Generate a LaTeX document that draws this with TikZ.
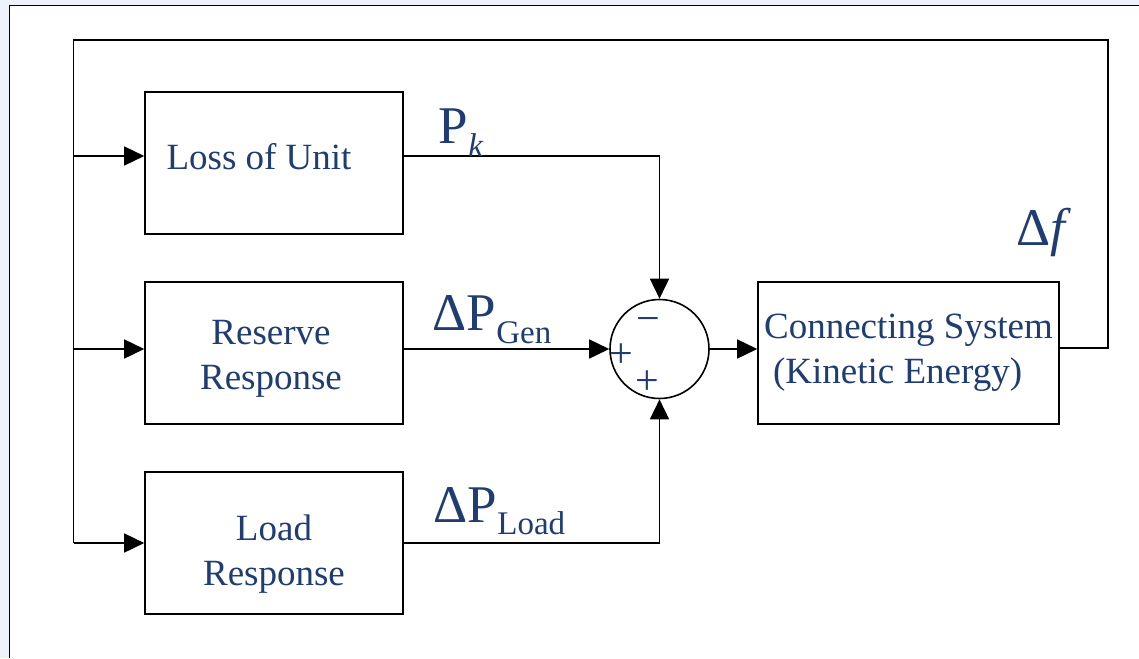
\documentclass[tikz,border=0pt]{standalone}
\usepackage{fontspec}
\setmainfont{Liberation Serif}
\usetikzlibrary{arrows.meta}
\definecolor{txtblue}{HTML}{1F3D73}
\definecolor{bgblue}{HTML}{EEF2FA}
\begin{document}
\begin{tikzpicture}[x=1pt,y=-1pt,
  line width=1.6pt,
  blk/.style={draw, line width=1.6pt, minimum width=258pt, minimum height=142pt, inner sep=0pt},
  btxt/.style={text=txtblue, font=\fontsize{37}{45}\selectfont, align=center, inner sep=0pt},
  arr/.style={-{Triangle[length=20pt,width=19pt]}},
  sig/.style={text=txtblue, font=\fontsize{42}{42}\selectfont, inner sep=0pt},
  lbl/.style={text=txtblue, inner sep=0pt, anchor=base west, font=\fontsize{53}{53}\selectfont}]
\useasboundingbox (0,0) rectangle (1139,658);
\fill[bgblue] (0,0) rectangle (1139,658);
\fill[white] (9.5,5.5) rectangle (1139,658);
\draw (1139,5.5) -- (9.5,5.5) -- (9.5,658);

% blocks
\node[blk] (loss) at (274,163) {};
\node[blk] (res) at (274,353) {};
\node[blk] (load) at (274,543) {};
\node[blk, minimum width=301pt] (cs) at (908.5,353) {};
\node[btxt] (losst) at (259,157) {Loss of Unit};
\node[btxt] (rest) at (271,358.5) {Reserve\\Response};
\node[btxt] (loadt) at (274,554.5) {Load\\Response};
\node[btxt, align=left] (cst) at (cs) {Connecting System\\\hspace*{9pt}(Kinetic Energy)};
\node[draw, circle, minimum size=99pt, inner sep=0pt] (sum) at (659.5,349) {};

% coordinates of the feedback path
\coordinate (tl) at (73.5,40);
\coordinate (tr) at (1107.7,40);
\coordinate (fr) at (1107.7,348);
\coordinate (bl) at (73.5,543);
\coordinate (a1) at (73.5,156);
\coordinate (a2) at (73.5,349);

% feedback
\draw (cs.east |- fr) -- (fr) -- (tr) -- (tl) -- (bl);
\draw[arr] (a1) -- (a1 -| loss.west);
\draw[arr] (a2) -- (a2 -| res.west);
\draw[arr] (bl) -- (load.west);

% into summing junction
\draw[arr] (a1 -| loss.east) -| (sum.north);
\draw[arr] (sum.west -| res.east) -- (sum.west);
\draw[arr] (load.east) -| (sum.south);
\draw[arr] (sum.east) -- (sum.east -| cs.west);

% signs
\node[sig] (m) at (648,325) {−};
\node[sig] (p1) at (621,356) {+};
\node[sig] (p2) at (647,383) {+};

% labels
\node[lbl] (pk) at (438,143) {P\raisebox{-13pt}{\fontsize{33}{33}\selectfont\itshape k}};
\node[lbl] (pgen) at (432,330) {ΔP\raisebox{-13pt}{\fontsize{33}{33}\selectfont Gen}};
\node[lbl] (pload) at (433,522) {ΔP\raisebox{-12pt}{\fontsize{33}{33}\selectfont Load}};
\node[lbl] (df) at (1016,245) {Δ\textit{f}};
\end{tikzpicture}
\end{document}
